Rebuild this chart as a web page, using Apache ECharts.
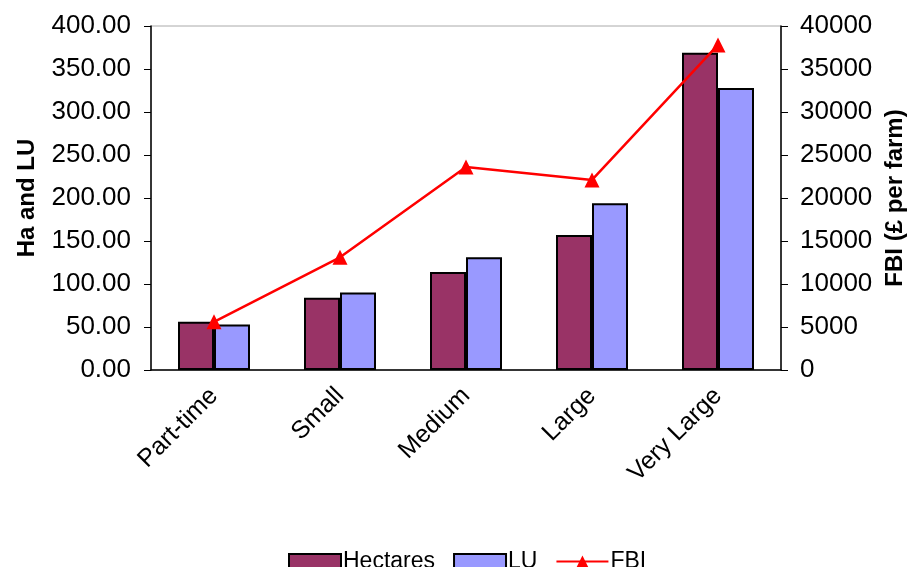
<!DOCTYPE html>
<html><head><meta charset="utf-8">
<script src="https://cdn.jsdelivr.net/npm/echarts@6/dist/echarts.min.js"></script>
<style>html,body{margin:0;padding:0;background:#fff}#c{width:909px;height:567px}</style>
</head><body><div id="c"></div>
<script>
const categories = ['Part-time', 'Small', 'Medium', 'Large', 'Very Large'];
const hectares = [56, 84, 114, 157, 369];
const lu = [53, 90, 131, 194, 328];
const fbi = [5600, 13100, 23600, 22100, 37800];
const leftTicks = {min: 0, max: 400, interval: 50};
const rightTicks = {min: 0, max: 40000, interval: 5000};

const FONT = '"Liberation Sans", Arial, sans-serif';
const chart = echarts.init(document.getElementById('c'), null, {renderer: 'canvas'});
chart.setOption({
  animation: false,
  backgroundColor: '#fff',
  textStyle: {fontFamily: FONT, color: '#000'},
  grid: {left: 151, right: 128, top: 26, bottom: 197, show: true, borderColor: '#aaa', borderWidth: 1,
    outerBoundsMode: 'none', containLabel: false},
  legend: {
    top: 545, left: 283, itemWidth: 52, itemHeight: 15, itemGap: 18,
    textStyle: {fontFamily: FONT, fontSize: 23, color: '#000', padding: [0, 0, 0, -3]},
    data: [
      {name: 'Hectares', icon: 'rect'},
      {name: 'LU', icon: 'rect'},
      {name: 'FBI'}
    ]
  },
  xAxis: {
    type: 'category', data: categories,
    axisLine: {lineStyle: {color: '#000', width: 1.5}},
    axisTick: {length: 8, lineStyle: {color: '#000'}},
    axisLabel: {rotate: 45, fontSize: 25, color: '#000', fontFamily: FONT, margin: 22, interval: 0}
  },
  yAxis: [
    {
      type: 'value', min: leftTicks.min, max: leftTicks.max, interval: leftTicks.interval,
      name: 'Ha and LU', nameLocation: 'middle', nameGap: 112, nameRotate: 90,
      nameTextStyle: {fontFamily: FONT, fontSize: 24, fontWeight: 'bold', color: '#000'},
      axisLine: {show: true, lineStyle: {color: '#000', width: 1.5}},
      axisTick: {show: true, length: 7, lineStyle: {color: '#000'}},
      splitLine: {show: false},
      axisLabel: {fontSize: 26, color: '#000', fontFamily: FONT, margin: 20,
        formatter: v => v.toFixed(2)}
    },
    {
      type: 'value', min: rightTicks.min, max: rightTicks.max, interval: rightTicks.interval,
      name: 'FBI (£ per farm)', nameLocation: 'middle', nameGap: 100, nameRotate: 90,
      nameTextStyle: {fontFamily: FONT, fontSize: 24, fontWeight: 'bold', color: '#000'},
      axisLine: {show: true, lineStyle: {color: '#000', width: 1.5}},
      axisTick: {show: true, length: 7, lineStyle: {color: '#000'}},
      splitLine: {show: false},
      axisLabel: {fontSize: 26, color: '#000', fontFamily: FONT, margin: 19,
        formatter: v => String(v)}
    }
  ],
  series: [
    {name: 'Hectares', type: 'bar', data: hectares, barWidth: 36, barGap: '0%',
      itemStyle: {color: '#993366', borderColor: '#000', borderWidth: 2}},
    {name: 'LU', type: 'bar', data: lu, barWidth: 36, barGap: '0%',
      itemStyle: {color: '#9999FF', borderColor: '#000', borderWidth: 2}},
    {name: 'FBI', type: 'line', yAxisIndex: 1, data: fbi,
      symbol: 'triangle', symbolSize: 15,
      lineStyle: {color: '#FF0000', width: 2.5},
      itemStyle: {color: '#FF0000'}}
  ]
});
</script></body></html>
